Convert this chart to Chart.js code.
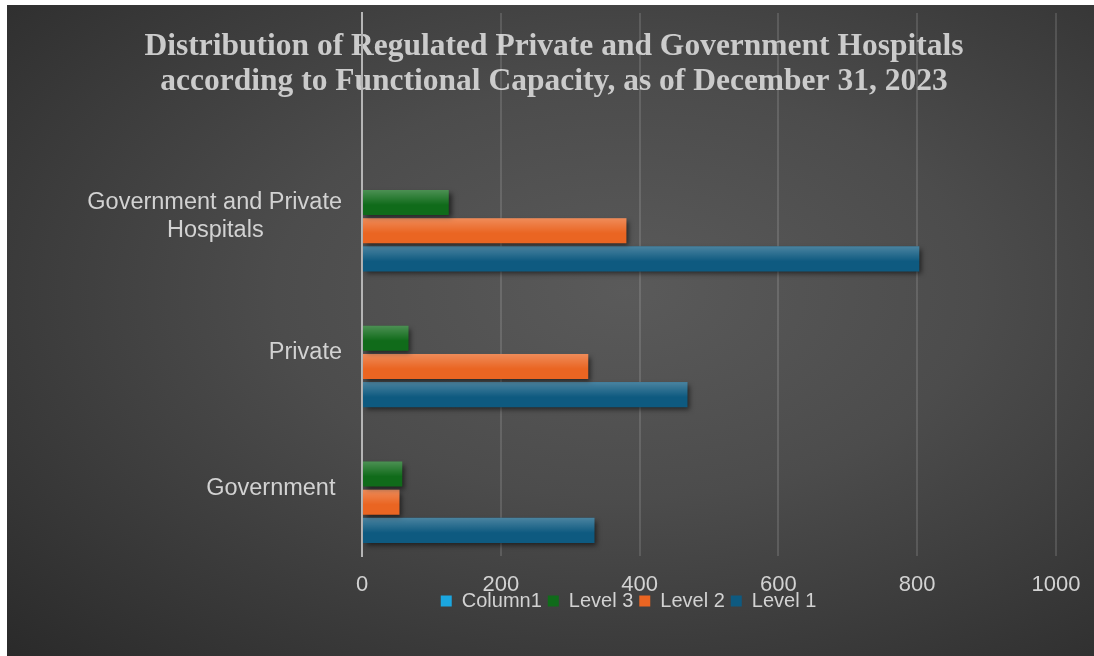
<!DOCTYPE html>
<html>
<head>
<meta charset="utf-8">
<title>Distribution of Regulated Private and Government Hospitals</title>
<script src="https://cdn.jsdelivr.net/npm/chart.js@4.4.1/dist/chart.umd.min.js"></script>
<style>
  html, body { margin: 0; padding: 0; background: #ffffff; }
  #wrap {
    position: absolute; left: 7px; top: 5px; width: 1087px; height: 651px;
    background: radial-gradient(ellipse farthest-corner at 57% 44%, #5a5a5a 0%, #4c4c4c 40%, #2a2a2a 100%);
  }
</style>
</head>
<body>
<div id="wrap"><canvas id="hospitalChart"></canvas></div>
<script>
// Chart data (top category is the blank header row of the sheet)
const categories = ['', ['Government and Private', 'Hospitals            '], 'Private', 'Government '];
const column1 = [null, null, null, null];
const level3 = [null, 125, 67, 58];
const level2 = [null, 381, 326, 54];
const level1 = [null, 803, 469, 335];
const xTicks = [0, 200, 400, 600, 800, 1000];

const titleLines = [
    'Distribution of Regulated Private and Government Hospitals',
    'according to Functional Capacity, as of December 31, 2023'
];

const labelColor = '#d2d2d2';

// title drawn behind the grid, like the original
const titlePlugin = {
    id: 'titleText',
    beforeDraw(chart) {
        const ctx = chart.ctx;
        ctx.save();
        ctx.font = 'bold 31.5px "Liberation Serif", "Times New Roman", serif';
        ctx.fillStyle = '#cbcbcb';
        ctx.textAlign = 'center';
        ctx.textBaseline = 'middle';
        ctx.fillText(titleLines[0], 547, 42);
        ctx.fillText(titleLines[1], 547, 77);
        ctx.restore();
    }
};

// drop shadow + glossy top on the bars
const barStyle = {
    id: 'barStyle',
    beforeDatasetsDraw(chart) {
        const ctx = chart.ctx;
        ctx.save();
        ctx.shadowColor = 'rgba(0,0,0,0.55)';
        ctx.shadowOffsetX = 3;
        ctx.shadowOffsetY = 3;
        ctx.shadowBlur = 5;
    },
    afterDatasetsDraw(chart) {
        const ctx = chart.ctx;
        ctx.restore();
        chart.data.datasets.forEach((ds, i) => {
            chart.getDatasetMeta(i).data.forEach(bar => {
                if (bar.skip || !isFinite(bar.x)) return;
                const left = Math.min(bar.base, bar.x);
                const w = Math.abs(bar.x - bar.base);
                const top = bar.y - bar.height / 2;
                if (w <= 0) return;
                const g = ctx.createLinearGradient(0, top, 0, top + bar.height * 0.6);
                g.addColorStop(0, 'rgba(255,255,255,0.25)');
                g.addColorStop(1, 'rgba(255,255,255,0)');
                ctx.fillStyle = g;
                ctx.fillRect(left, top, w, bar.height * 0.6);
            });
        });
    }
};

// legend sits over the tick labels in the original
const legendShift = {
    id: 'legendShift',
    afterLayout(chart) {
        const l = chart.legend;
        const dy = -29, dx = 97;
        l.top += dy; l.bottom += dy;
        l.left += dx; l.right += dx;
    }
};

new Chart(document.getElementById('hospitalChart'), {
    type: 'bar',
    data: {
        labels: categories,
        datasets: [
            { label: 'Column1', data: column1, backgroundColor: '#1ba7e0' },
            { label: 'Level 3', data: level3, backgroundColor: '#106b1a' },
            { label: 'Level 2', data: level2, backgroundColor: '#ea6522' },
            { label: 'Level 1', data: level1, backgroundColor: '#0e5a80' }
        ]
    },
    options: {
        indexAxis: 'y',
        responsive: true,
        maintainAspectRatio: false,
        animation: false,
        layout: { padding: { top: 8, right: 38, bottom: 6, left: 0 } },
        datasets: {
            bar: { categoryPercentage: 0.83, barPercentage: 0.89 }
        },
        plugins: {
            title: { display: false },
            tooltip: { enabled: false },
            legend: {
                position: 'bottom',
                labels: {
                    color: labelColor,
                    font: { family: '"Liberation Sans", Arial, sans-serif', size: 20 },
                    boxWidth: 11,
                    boxHeight: 11,
                    padding: 6
                }
            }
        },
        scales: {
            x: {
                min: 0,
                max: 1000,
                afterBuildTicks(scale) {
                    scale.ticks = xTicks.map(v => ({ value: v }));
                },
                afterFit(scale) {
                    scale.height = 58;
                    scale.paddingLeft = 0;
                    scale.paddingRight = 0;
                },
                grid: { color: 'rgba(255,255,255,0.13)', lineWidth: 2, drawTicks: false },
                border: { display: false },
                ticks: {
                    color: labelColor,
                    padding: 16,
                    font: { family: '"Liberation Sans", Arial, sans-serif', size: 22 },
                    callback: v => String(v)
                }
            },
            y: {
                afterFit(scale) {
                    scale.width = 355;
                    scale.paddingTop = 0;
                    scale.paddingBottom = 0;
                },
                grid: { display: false, drawTicks: false },
                border: { display: true, color: '#b5b5b5', width: 2 },
                ticks: {
                    color: labelColor,
                    padding: 20,
                    font: { family: '"Liberation Sans", Arial, sans-serif', size: 23.5 }
                }
            }
        }
    },
    plugins: [titlePlugin, barStyle, legendShift]
});
</script>
</body>
</html>
